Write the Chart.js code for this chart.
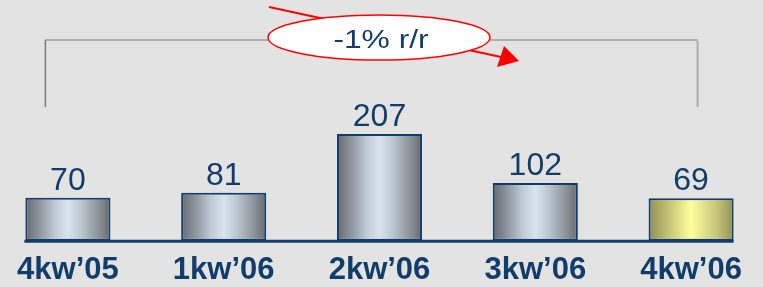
<!DOCTYPE html>
<html><head><meta charset="utf-8">
<script src="https://cdn.jsdelivr.net/npm/chart.js@4.4.1/dist/chart.umd.min.js"></script>
<style>
html,body{margin:0;padding:0;background:#e3e3e3;overflow:hidden;width:763px;height:287px;}
#wrap{position:absolute;left:-10px;top:0;width:779px;height:300px;}
</style></head><body>
<div id="wrap"><canvas id="c" width="779" height="300"></canvas></div>
<script>
// ---- data ----
const categories = ["4kw’05", "1kw’06", "2kw’06", "3kw’06", "4kw’06"];
const values = [70, 81, 207, 102, 69];
const highlighted = [false, false, false, false, true];
const changeLabel = "-1% r/r";

// ---- style ----
const NAVY = '#123d6b';
const FONT = '"Liberation Sans", Arial, sans-serif';
const BAR_PCT = 0.546;
const BASE_VALUE = -22;

function barGradient(chart, idx) {
  const xs = chart.scales.x;
  if (!xs || !isFinite(xs.width)) return '#b0b8c0';
  const cx = xs.getPixelForValue(idx);
  const half = (xs.width / categories.length) * BAR_PCT / 2;
  const g = chart.ctx.createLinearGradient(cx - half, 0, cx + half, 0);
  if (highlighted[idx]) {
    g.addColorStop(0, '#8e8d52');
    g.addColorStop(0.2, '#bdbc72');
    g.addColorStop(0.5, '#ffff9c');
    g.addColorStop(0.8, '#c6c57b');
    g.addColorStop(1, '#919055');
  } else {
    g.addColorStop(0, '#666b72');
    g.addColorStop(0.15, '#8a9098');
    g.addColorStop(0.35, '#bfcbd5');
    g.addColorStop(0.5, '#d9e4ed');
    g.addColorStop(0.65, '#bdc8d1');
    g.addColorStop(0.85, '#8e949a');
    g.addColorStop(1, '#676b6f');
  }
  return g;
}

const decor = {
  id: 'decor',
  afterDatasetsDraw(chart) {
    const ctx = chart.ctx;
    const bars = chart.getDatasetMeta(0).data;
    const top = chart.chartArea.top;
    ctx.save();
    // axis line
    const basePx = chart.scales.y.getPixelForValue(BASE_VALUE);
    const first = bars[0], last = bars[bars.length - 1];
    ctx.strokeStyle = NAVY; ctx.lineWidth = 3;
    ctx.beginPath();
    ctx.moveTo(first.x - first.width / 2 - 1, basePx + 0.5);
    ctx.lineTo(last.x + last.width / 2, basePx + 0.5);
    ctx.stroke();
    // value labels
    ctx.font = '32px ' + FONT;
    ctx.fillStyle = NAVY; ctx.textAlign = 'center'; ctx.textBaseline = 'alphabetic';
    bars.forEach((b, i) => ctx.fillText(String(values[i]), b.x, b.y - 8));
    // bracket
    const lx = bars[0].x - 22.5, rx = bars[4].x + 6.5;
    const by = top + 40, bb = top + 107;
    ctx.lineWidth = 1.5;
    ctx.strokeStyle = '#9c9c9c';
    ctx.beginPath(); ctx.moveTo(lx, by); ctx.lineTo(rx, by); ctx.stroke();
    ctx.strokeStyle = '#7a7a7a';
    ctx.beginPath(); ctx.moveTo(lx, by); ctx.lineTo(lx, bb); ctx.stroke();
    ctx.strokeStyle = '#ababab'; ctx.lineWidth = 2;
    ctx.beginPath(); ctx.moveTo(rx, by + 1); ctx.lineTo(rx, bb); ctx.stroke();
    // red arrow line
    const cx = bars[2].x - 0.5, cy = top + 37.5;
    ctx.strokeStyle = '#ff0000'; ctx.lineWidth = 2;
    ctx.beginPath(); ctx.moveTo(cx - 110, top + 7); ctx.lineTo(cx + 122, top + 57); ctx.stroke();
    // ellipse
    ctx.beginPath();
    ctx.ellipse(cx, cy, 111, 22.5, 0, 0, Math.PI * 2);
    ctx.fillStyle = '#ffffff'; ctx.fill();
    ctx.lineWidth = 1.5; ctx.strokeStyle = '#ff0000'; ctx.stroke();
    // label
    ctx.save();
    ctx.translate(cx + 2, top + 41);
    ctx.scale(1.27, 1);
    ctx.font = '25px ' + FONT;
    ctx.fillStyle = NAVY; ctx.textAlign = 'center'; ctx.textBaseline = 'middle';
    ctx.fillText(changeLabel, 0, 0);
    ctx.restore();
    // arrowhead
    ctx.fillStyle = '#ff0000';
    ctx.beginPath();
    ctx.moveTo(cx + 140, top + 61);
    ctx.lineTo(cx + 125, top + 46);
    ctx.lineTo(cx + 118, top + 67);
    ctx.closePath(); ctx.fill();
    ctx.restore();
  }
};

new Chart(document.getElementById('c'), {
  type: 'bar',
  data: {
    labels: categories,
    datasets: [{
      data: values,
      base: BASE_VALUE,
      backgroundColor: (c) => (c.type === 'data' ? barGradient(c.chart, c.dataIndex) : '#b0b8c0'),
      borderColor: NAVY,
      borderWidth: 2,
      borderSkipped: false,
      barPercentage: BAR_PCT,
      categoryPercentage: 1
    }]
  },
  options: {
    responsive: false,
    animation: false,
    events: [],
    layout: { padding: 0 },
    plugins: { legend: { display: false }, tooltip: { enabled: false } },
    scales: {
      x: {
        grid: { display: false, drawTicks: false },
        border: { display: false },
        ticks: {
          color: NAVY, padding: 11, maxRotation: 0, autoSkip: false,
          font: { family: FONT, size: 31, weight: 'bold', lineHeight: 1.2 }
        }
      },
      y: { display: false, min: BASE_VALUE, max: 494 }
    }
  },
  plugins: [decor]
});
</script>
</body></html>
